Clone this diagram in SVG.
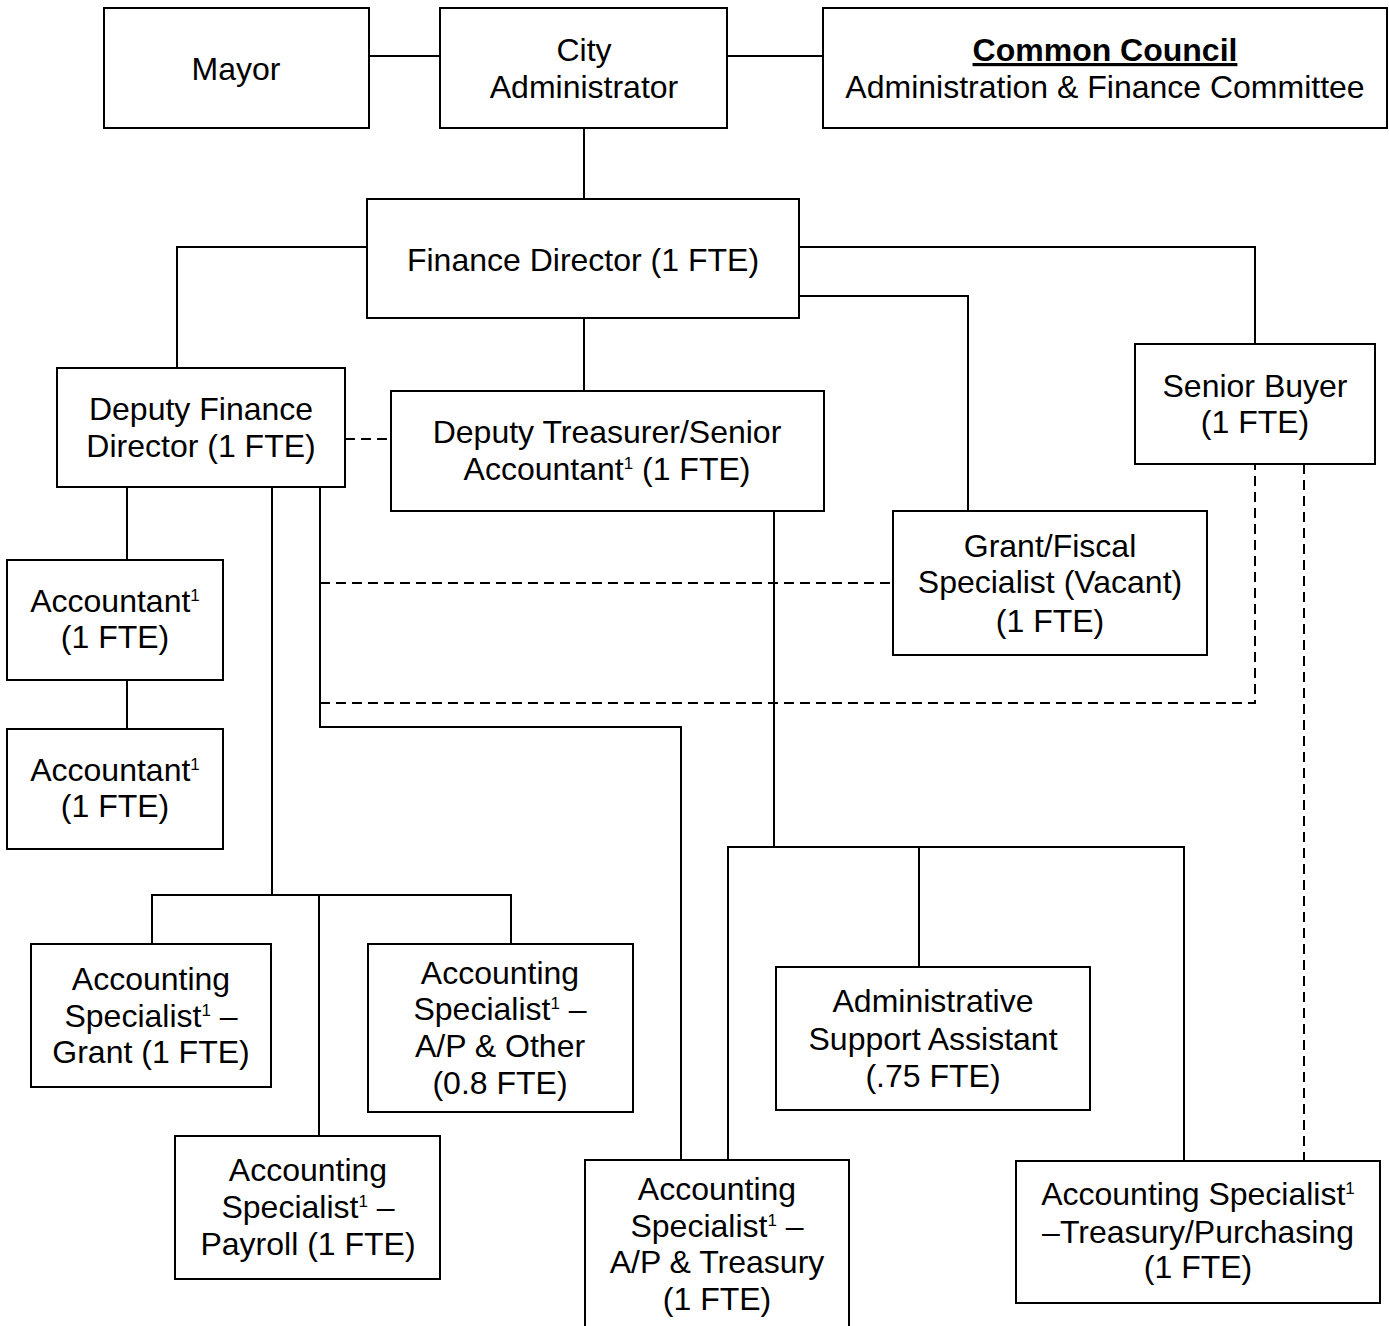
<svg xmlns="http://www.w3.org/2000/svg" width="1389" height="1326" viewBox="0 0 1389 1326">
<style>
.box{fill:#fff;stroke:#000;stroke-width:2}
.ln{fill:none;stroke:#000;stroke-width:2}
.dash{fill:none;stroke:#000;stroke-width:2;stroke-dasharray:10 6}
text{font-family:"Liberation Sans",Arial,sans-serif;font-size:32px;fill:#000;text-anchor:middle}
.sup{font-size:17px}
.b{font-weight:bold;text-decoration:underline}
</style>
<rect width="1389" height="1326" fill="#fff"/>
<g id="connectors">
<line class="ln" x1="369" y1="56" x2="440" y2="56"/>
<line class="ln" x1="727" y1="56" x2="823" y2="56"/>
<line class="ln" x1="584" y1="128" x2="584" y2="199"/>
<polyline class="ln" points="367,247 177,247 177,368"/>
<polyline class="ln" points="799,247 1255,247 1255,344"/>
<polyline class="ln" points="799,296 968,296 968,511"/>
<line class="ln" x1="584" y1="318" x2="584" y2="391"/>
<line class="dash" x1="345" y1="439" x2="391" y2="439"/>
<line class="ln" x1="127" y1="487" x2="127" y2="560"/>
<line class="ln" x1="127" y1="680" x2="127" y2="729"/>
<line class="ln" x1="272" y1="487" x2="272" y2="895"/>
<polyline class="ln" points="320,487 320,727 681,727 681,1160"/>
<line class="dash" x1="320" y1="583" x2="893" y2="583"/>
<polyline class="dash" points="320,703 1255,703 1255,464"/>
<line class="dash" x1="1304" y1="464" x2="1304" y2="1161"/>
<polyline class="ln" points="152,944 152,895 511,895 511,944"/>
<line class="ln" x1="319" y1="895" x2="319" y2="1136"/>
<line class="ln" x1="774" y1="511" x2="774" y2="847"/>
<polyline class="ln" points="728,1160 728,847 1184,847 1184,1161"/>
<line class="ln" x1="919" y1="847" x2="919" y2="967"/>
</g>
<g id="mayor">
<rect class="box" x="104" y="8" width="265" height="120"/>
<text x="236" y="80">Mayor</text>
</g>
<g id="city-administrator">
<rect class="box" x="440" y="8" width="287" height="120"/>
<text x="584" y="61">City</text>
<text x="584" y="98">Administrator</text>
</g>
<g id="common-council">
<rect class="box" x="823" y="8" width="564" height="120"/>
<text x="1105" y="61" class="b">Common Council</text>
<text x="1105" y="98">Administration &amp; Finance Committee</text>
</g>
<g id="finance-director">
<rect class="box" x="367" y="199" width="432" height="119"/>
<text x="583" y="271">Finance Director (1 FTE)</text>
</g>
<g id="deputy-finance-director">
<rect class="box" x="57" y="368" width="288" height="119"/>
<text x="201" y="420">Deputy Finance</text>
<text x="201" y="457">Director (1 FTE)</text>
</g>
<g id="deputy-treasurer">
<rect class="box" x="391" y="391" width="433" height="120"/>
<text x="607" y="443">Deputy Treasurer/Senior</text>
<text x="607" y="480">Accountant<tspan class="sup" dy="-11">1</tspan><tspan dy="11"> (1 FTE)</tspan></text>
</g>
<g id="senior-buyer">
<rect class="box" x="1135" y="344" width="240" height="120"/>
<text x="1255" y="397">Senior Buyer</text>
<text x="1255" y="433">(1 FTE)</text>
</g>
<g id="grant-fiscal-specialist">
<rect class="box" x="893" y="511" width="314" height="144"/>
<text x="1050" y="557">Grant/Fiscal</text>
<text x="1050" y="593">Specialist (Vacant)</text>
<text x="1050" y="632">(1 FTE)</text>
</g>
<g id="accountant-1">
<rect class="box" x="7" y="560" width="216" height="120"/>
<text x="115" y="612">Accountant<tspan class="sup" dy="-11">1</tspan></text>
<text x="115" y="648">(1 FTE)</text>
</g>
<g id="accountant-2">
<rect class="box" x="7" y="729" width="216" height="120"/>
<text x="115" y="781">Accountant<tspan class="sup" dy="-11">1</tspan></text>
<text x="115" y="817">(1 FTE)</text>
</g>
<g id="acct-spec-grant">
<rect class="box" x="31" y="944" width="240" height="143"/>
<text x="151" y="990">Accounting</text>
<text x="151" y="1027">Specialist<tspan class="sup" dy="-11">1</tspan><tspan dy="11"> –</tspan></text>
<text x="151" y="1063">Grant (1 FTE)</text>
</g>
<g id="acct-spec-ap-other">
<rect class="box" x="368" y="944" width="265" height="168"/>
<text x="500" y="984">Accounting</text>
<text x="500" y="1020">Specialist<tspan class="sup" dy="-11">1</tspan><tspan dy="11"> –</tspan></text>
<text x="500" y="1057">A/P &amp; Other</text>
<text x="500" y="1094">(0.8 FTE)</text>
</g>
<g id="acct-spec-payroll">
<rect class="box" x="175" y="1136" width="265" height="143"/>
<text x="308" y="1181">Accounting</text>
<text x="308" y="1218">Specialist<tspan class="sup" dy="-11">1</tspan><tspan dy="11"> –</tspan></text>
<text x="308" y="1255">Payroll (1 FTE)</text>
</g>
<g id="admin-support-assistant">
<rect class="box" x="776" y="967" width="314" height="143"/>
<text x="933" y="1012">Administrative</text>
<text x="933" y="1050">Support Assistant</text>
<text x="933" y="1087">(.75 FTE)</text>
</g>
<g id="acct-spec-ap-treasury">
<rect class="box" x="585" y="1160" width="264" height="180"/>
<text x="717" y="1200">Accounting</text>
<text x="717" y="1237">Specialist<tspan class="sup" dy="-11">1</tspan><tspan dy="11"> –</tspan></text>
<text x="717" y="1273">A/P &amp; Treasury</text>
<text x="717" y="1310">(1 FTE)</text>
</g>
<g id="acct-spec-treasury-purchasing">
<rect class="box" x="1016" y="1161" width="364" height="142"/>
<text x="1198" y="1205">Accounting Specialist<tspan class="sup" dy="-11">1</tspan></text>
<text x="1198" y="1243">–Treasury/Purchasing</text>
<text x="1198" y="1278">(1 FTE)</text>
</g>
</svg>
